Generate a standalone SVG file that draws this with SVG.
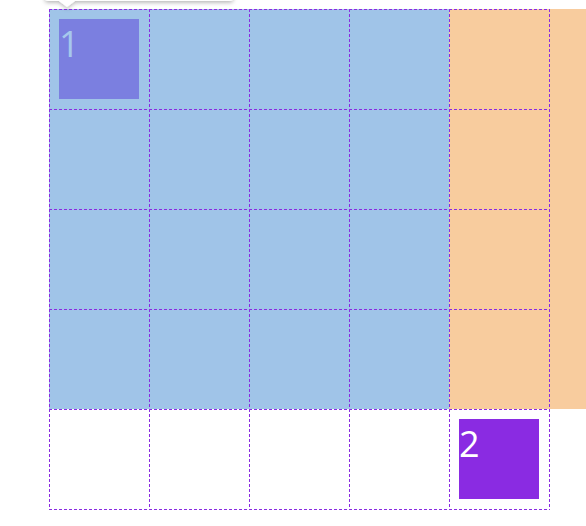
<svg xmlns="http://www.w3.org/2000/svg" width="586" height="526" viewBox="0 0 586 526">
<defs>
<style>
.grid line{stroke:#8a2be2;stroke-width:1;stroke-dasharray:3 2;}
.lbl{font-family:"Open Sans","Noto Sans",sans-serif;font-size:36px;}
</style>
<filter id="sh" x="-20%" y="-100%" width="140%" height="300%"><feDropShadow dx="0" dy="1.5" stdDeviation="2" flood-color="#000" flood-opacity="0.3"/></filter>
</defs>
<rect width="586" height="526" fill="#fff"/>
<g id="area-blue"><rect x="49" y="9" width="400" height="400" fill="#a0c4e8"/></g>
<g id="area-orange"><rect x="449" y="9" width="137" height="400" fill="#f8cc9e"/></g>
<g id="grid" class="grid">
<line x1="49.5" y1="9" x2="49.5" y2="510"/>
<line x1="149.5" y1="9" x2="149.5" y2="510"/>
<line x1="249.5" y1="9" x2="249.5" y2="510"/>
<line x1="349.5" y1="9" x2="349.5" y2="510"/>
<line x1="449.5" y1="9" x2="449.5" y2="510"/>
<line x1="549.5" y1="9" x2="549.5" y2="510"/>
<line x1="49" y1="9.5" x2="550" y2="9.5"/>
<line x1="49" y1="109.5" x2="550" y2="109.5"/>
<line x1="49" y1="209.5" x2="550" y2="209.5"/>
<line x1="49" y1="309.5" x2="550" y2="309.5"/>
<line x1="49" y1="409.5" x2="550" y2="409.5"/>
<line x1="49" y1="509.5" x2="550" y2="509.5"/>
</g>
<g id="item-1">
<rect x="59" y="19" width="80" height="80" fill="#7b7fe0"/>
<text class="lbl" x="59" y="57" fill="#a6c8ec">1</text>
</g>
<g id="item-2">
<rect x="459" y="419" width="80" height="80" fill="#8a2be2"/>
<text class="lbl" x="459" y="457" fill="#fff">2</text>
</g>
<g id="tooltip" filter="url(#sh)">
<path d="M45,-10 H233 V-2 Q233,1 230,1 H75 L67,7 L59,1 H48 Q45,1 45,-2 Z" fill="#fff"/>
</g>
</svg>
